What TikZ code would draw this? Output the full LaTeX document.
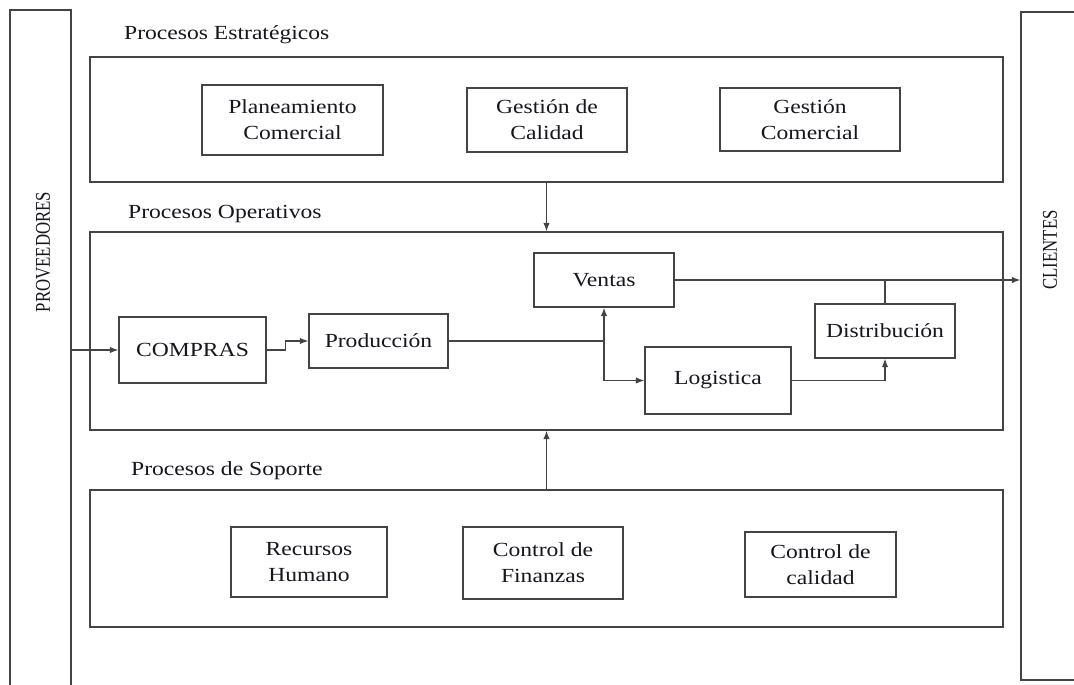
\documentclass[tikz,border=0pt]{standalone}
\usepackage{fontspec}
\setmainfont{Liberation Serif}[FakeStretch=1.18]
\newfontfamily\sidefont{Liberation Serif}[FakeStretch=0.8]
\usetikzlibrary{arrows.meta}
\definecolor{ink}{HTML}{16161E}
\definecolor{rule}{HTML}{444444}
\begin{document}
\begin{tikzpicture}[x=1pt,y=-1pt,
  box/.style={draw=rule,line width=1.4pt,inner sep=0pt,rectangle,
    text=ink,align=center,font=\fontsize{20}{26}\selectfont},
  frame/.style={draw=rule,line width=1.4pt,inner sep=0pt,rectangle},
  title/.style={anchor=west,inner sep=0pt,text=ink,font=\fontsize{20}{26}\selectfont},
  side/.style={rotate=90,inner sep=0pt,text=ink,font=\sidefont\fontsize{21}{26}\selectfont},
  link/.style={draw=rule,line width=1.2pt},
  arr/.style={link,-{Latex[length=8.5pt,width=6.5pt]}}]
\useasboundingbox[fill=white] (0,0) rectangle (1074,685);
\clip (0,0) rectangle (1074,685);

% side panels
\node[frame,minimum width=61pt,minimum height=680pt] (prov) at (40.5,350) {};
\node[side] (provlbl) at (43,252) {PROVEEDORES};
\node[frame,minimum width=79pt,minimum height=668pt] (cli) at (1060.5,346) {};
\node[side] (clilbl) at (1050,250) {CLIENTES};

% group frames
\node[frame,minimum width=913pt,minimum height=125pt] (est) at (546.5,119.5) {};
\node[frame,minimum width=913pt,minimum height=198pt] (ope) at (546.5,331) {};
\node[frame,minimum width=913pt,minimum height=137pt] (sop) at (546.5,558.5) {};
\node[title] (estlbl) at (124,35) {Procesos Estratégicos};
\node[title] (opelbl) at (128,214) {Procesos Operativos};
\node[title] (soplbl) at (131,471) {Procesos de Soporte};

% strategic processes
\node[box,minimum width=181pt,minimum height=70pt] (plan) at (292.5,120) {Planeamiento\\Comercial};
\node[box,minimum width=160pt,minimum height=64pt] (gcal) at (547,120) {Gestión de\\Calidad};
\node[box,minimum width=180pt,minimum height=63pt] (gcom) at (810,119.5) {Gestión\\Comercial};

% operative processes
\node[box,minimum width=147pt,minimum height=66pt] (compras) at (192.5,350) {COMPRAS};
\node[box,minimum width=139pt,minimum height=54pt] (prod) at (378.5,341) {Producción};
\node[box,minimum width=140pt,minimum height=54pt] (ventas) at (604,280) {Ventas};
\node[box,minimum width=146pt,minimum height=67pt] (log) at (718,380.5) {Logistica};
\node[box,minimum width=140pt,minimum height=54pt] (dist) at (885,331) {Distribución};

% support processes
\node[box,minimum width=156pt,minimum height=70pt] (rrhh) at (309,562) {Recursos\\Humano};
\node[box,minimum width=160pt,minimum height=72pt] (fin) at (543,563) {Control de\\Finanzas};
\node[box,minimum width=151pt,minimum height=65pt] (cc) at (820.5,564.5) {Control de\\calidad};

% flows
\draw[arr] (est.south) -- (ope.north);
\draw[arr] (sop.north) -- (ope.south);
\draw[arr] (prov.east |- compras.west) -- (compras.west);
\draw[arr] (compras.east) -- ++(19,0) |- (prod.west);
\coordinate (j) at (ventas.south |- prod.east);
\draw[link] (prod.east) -- (j);
\draw[arr] (j) -- (ventas.south);
\draw[arr] (j) |- (log.west);
\draw[arr] (ventas.east) -- (ventas.east -| cli.west);
\draw[link] (dist.north) -- (dist.north |- ventas.east);
\draw[arr] (log.east) -| (dist.south);
\end{tikzpicture}
\end{document}
